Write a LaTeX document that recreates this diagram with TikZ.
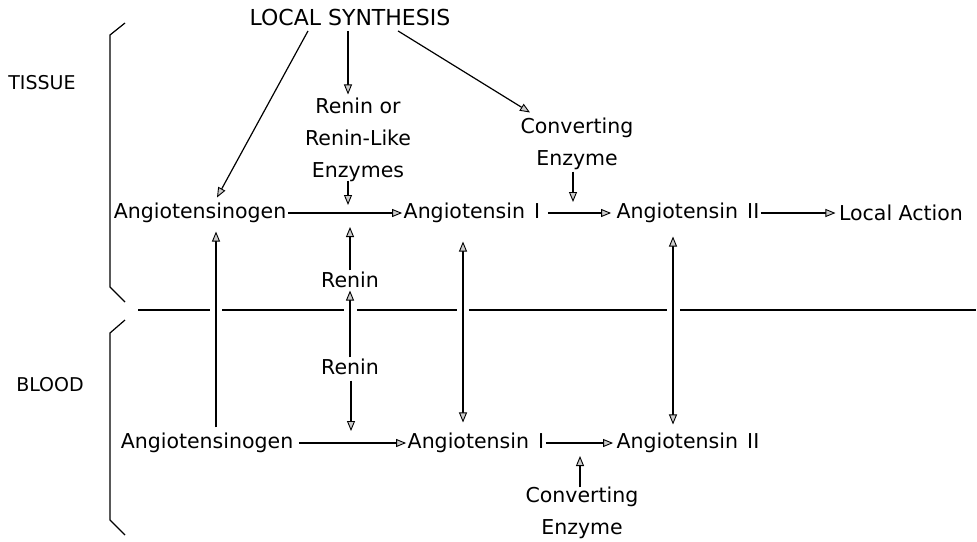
\documentclass[tikz,border=0pt]{standalone}
\usepackage{fontspec}
\setmainfont{DejaVu Sans}
\usepackage{tikz}
\usetikzlibrary{arrows.meta,positioning,calc}

\begin{document}
\begin{tikzpicture}[
  x=1pt,y=-1pt,
  line width=1.2pt,
  every node/.style={font=\fontsize{20.5}{32}\selectfont,inner sep=1pt,align=center},
  region/.style={font=\fontsize{19}{24}\selectfont},
  arr/.style={-{Triangle[length=10pt,width=8pt,fill=gray!40,line width=0.9pt]}},
  darr/.style={{Triangle[length=10pt,width=8pt,fill=gray!40,line width=0.9pt]}-{Triangle[length=10pt,width=8pt,fill=gray!40,line width=0.9pt]}},
]
  \useasboundingbox (0,0) rectangle (977,541);
  % labels of the two compartments
  \node[region] (tissue) at (42,83) {TISSUE};
  \node[region] (blood) at (50,385) {BLOOD};
  \node[font=\fontsize{22}{26}\selectfont] (ls) at (350,17) {LOCAL SYNTHESIS};
  % tissue side
  \node (renz) at (358,140) {Renin or\\Renin-Like\\Enzymes};
  \node (tce) at (577,144) {Converting\\Enzyme};
  \node (ta) at (200,213) {Angiotensinogen};
  \node (ti) at (472,213) {Angiotensin\hspace{0.45em}I};
  \node (tii) at (688,213) {Angiotensin\hspace{0.45em}II};
  \node (tla) at (901,213) {Local Action};
  \node (tr) at (350,280) {Renin};
  % blood side
  \node (br) at (350,367) {Renin};
  \node (ba) at (207,443) {Angiotensinogen};
  \node (bi) at (476,443) {Angiotensin\hspace{0.45em}I};
  \node (bii) at (688,443) {Angiotensin\hspace{0.45em}II};
  \node (bce) at (582,513) {Converting\\Enzyme};
  % points on the reaction arrows
  \coordinate (k1) at (348,205);
  \coordinate (k2) at (573,202);
  \coordinate (k3) at (350,227);
  \coordinate (k4) at (351,431);
  \coordinate (k5) at (580,456);
  % brackets
  \draw (125,23) -- (110,35) -- (110,287) -- (125,302);
  \draw (125,320) -- (110,333) -- (110,520) -- (125,535);
  % dividing line
  \draw (138,310) -- (210,310) (222,310) -- (344,310) (357,310) -- (457,310)
        (469,310) -- (667,310) (680,310) -- (976,310);
  % from local synthesis
  \draw[arr] ([xshift=-42pt,yshift=-4pt]ls.south) -- ([xshift=17pt,yshift=4pt]ta.north);
  \draw[arr] ([xshift=-2pt,yshift=-4pt]ls.south) -- ([xshift=-10pt,yshift=2pt]renz.north);
  \draw[arr] ([xshift=48pt,yshift=-4pt]ls.south) -- ([xshift=-47pt,yshift=4pt]tce.north);
  \draw[arr] ([xshift=-10pt,yshift=3pt]renz.south) -- (k1);
  \draw[arr] ([xshift=-4pt]tce.south) -- (k2);
  % tissue reactions
  \draw[arr] (ta) -- (ti);
  \draw[arr,shorten <=6pt,shorten >=4pt] (ti) -- (tii);
  \draw[arr,shorten >=2pt] (tii) -- (tla);
  \draw[arr] (tr.north) -- (k3);
  % exchange between blood and tissue
  \draw[arr] ([xshift=9pt,yshift=4pt]ba.north) -- ([xshift=16pt,yshift=-7pt]ta.south);
  \draw[arr] (br.north) -- ([yshift=-1pt]tr.south);
  \draw[arr] ([xshift=1pt,yshift=-4pt]br.south) -- (k4);
  \draw[darr] ([xshift=-9pt,yshift=-17pt]ti.south) -- ([xshift=-13pt,yshift=9pt]bi.north);
  \draw[darr] ([xshift=-15pt,yshift=-12pt]tii.south) -- ([xshift=-15pt,yshift=7pt]bii.north);
  % blood reactions
  \draw[arr,shorten <=4pt] (ba) -- (bi);
  \draw[arr,shorten >=2pt] (bi) -- (bii);
  \draw[arr] ([xshift=-2pt,yshift=-2pt]bce.north) -- (k5);
\end{tikzpicture}
\end{document}
